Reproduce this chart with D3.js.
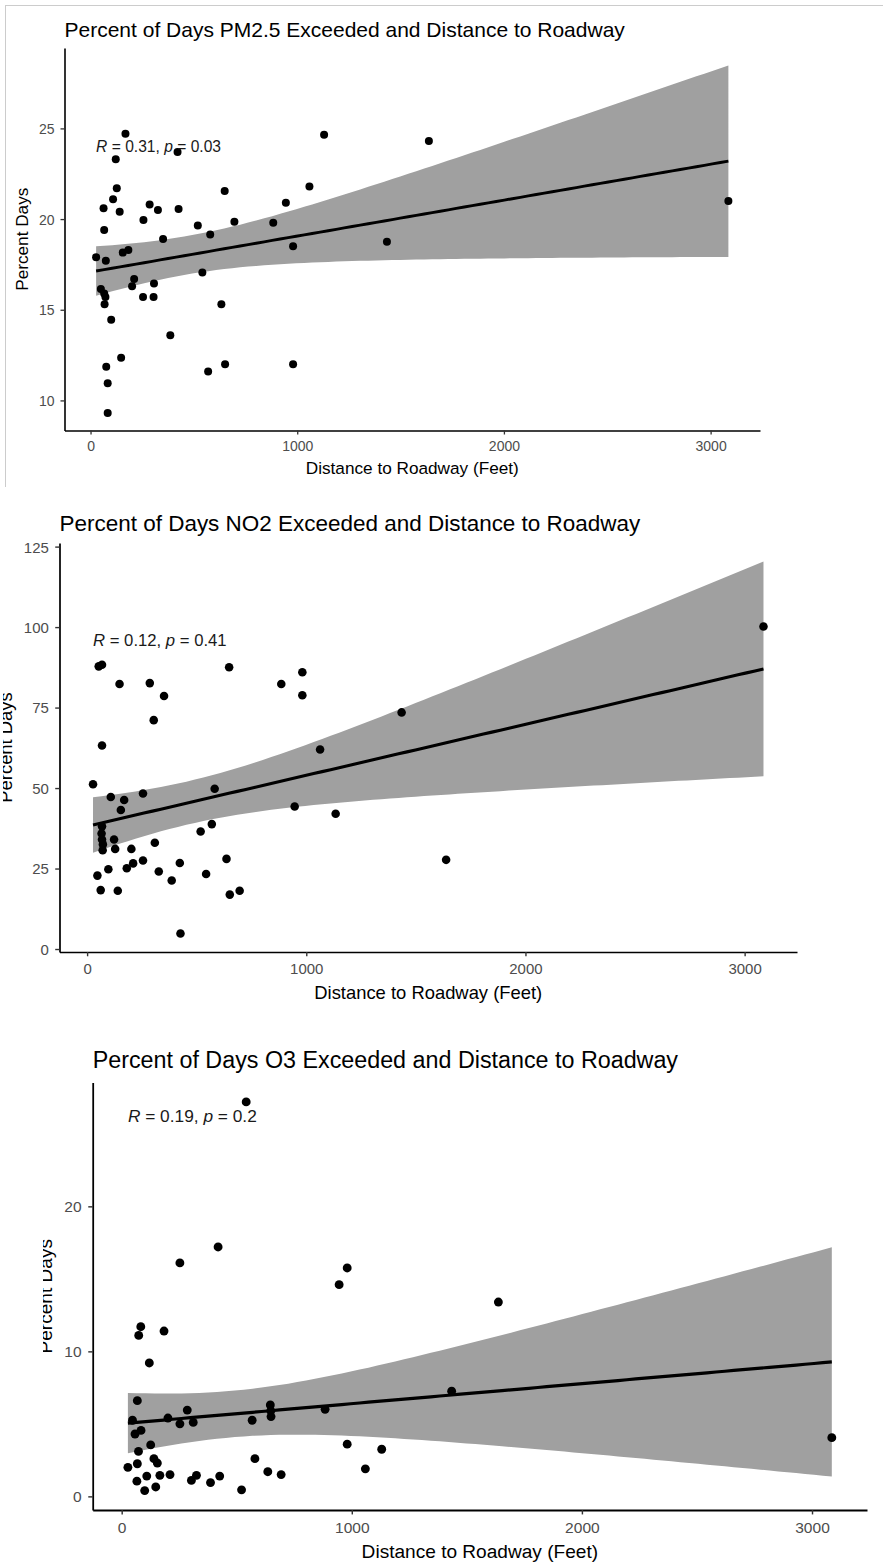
<!DOCTYPE html>
<html>
<head>
<meta charset="utf-8">
<script src="https://cdn.jsdelivr.net/npm/d3@7"></script>
<style>
  html, body { margin: 0; padding: 0; background: #fff; }
  svg { display: block; font-family: "Liberation Sans", Arial, Helvetica, sans-serif; }
</style>
</head>
<body>
<svg id="chart" width="883" height="1564"></svg>
<script>
// [distance to roadway (ft), percent of days the standard was exceeded]
const pm25Points = [
  [169,24.7],[421,23.7],[122,23.3],[127,21.7],[109,21.1],[63,20.6],[141,20.4],[286,20.8],
  [326,20.5],[426,20.55],[649,21.55],[945,20.9],[256,19.95],[66,19.4],[519,19.65],[696,19.85],
  [884,19.8],[351,18.9],[579,19.15],[27,17.9],[74,17.7],[156,18.15],[183,18.3],[980,18.5],
  [50,16.15],[66,15.9],[72,15.7],[68,15.3],[211,16.7],[201,16.3],[307,16.45],[254,15.7],
  [305,15.7],[541,17.05],[633,15.3],[100,14.45],[386,13.6],[148,12.35],[76,11.85],[569,11.6],
  [651,12.0],[980,12.0],[83,10.95],[83,9.3],[1130,24.65],[1637,24.3],[1059,21.8],[1434,18.75],
  [3086,21.0]
];
const no2Points = [
  [27,51.2],[53,87.8],[68,88.3],[148,82.3],[286,82.6],[351,78.6],[304,71.1],[68,63.2],
  [648,87.5],[886,82.3],[982,86.0],[982,78.8],[1063,62.0],[108,47.2],[169,46.3],[255,48.3],
  [154,43.2],[582,49.8],[947,44.3],[1134,42.0],[68,38.1],[66,35.9],[68,34.0],[72,32.5],
  [71,30.7],[123,34.0],[128,31.1],[202,31.1],[309,33.0],[518,36.5],[569,38.8],[47,22.8],
  [97,24.8],[181,25.1],[210,26.6],[255,27.5],[327,24.1],[386,21.3],[423,26.7],[543,23.3],
  [636,28.0],[62,18.3],[140,18.1],[651,16.9],[696,18.1],[426,4.85],[3086,100.2],[1435,73.5],
  [1638,27.7]
];
const o3Points = [
  [541,27.2],[419,17.2],[253,16.1],[945,14.6],[980,15.75],[83,11.7],[74,11.1],[184,11.4],
  [120,9.2],[68,6.6],[47,5.25],[84,4.55],[58,4.3],[201,5.4],[285,5.95],[253,5.0],
  [311,5.1],[567,5.25],[646,6.3],[648,5.9],[649,5.5],[884,6.0],[126,3.55],[73,3.1],
  [68,2.25],[27,2.0],[140,2.6],[155,2.3],[66,1.05],[109,1.4],[100,0.4],[148,0.65],
  [166,1.45],[210,1.5],[303,1.1],[325,1.45],[386,0.95],[426,1.4],[521,0.45],[579,2.6],
  [635,1.7],[693,1.5],[980,3.6],[1059,1.9],[1130,3.25],[1637,13.4],[1434,7.25],[3086,4.05]
];

const xTicks = [0, 1000, 2000, 3000];
const pm25YTicks = [10, 15, 20, 25];
const no2YTicks = [0, 25, 50, 75, 100, 125];
const o3YTicks = [0, 10, 20];

const titles = [
  "Percent of Days PM2.5 Exceeded and Distance to Roadway",
  "Percent of Days NO2 Exceeded and Distance to Roadway",
  "Percent of Days O3 Exceeded and Distance to Roadway"
];
const corR = ["0.31", "0.12", "0.19"];
const corP = ["0.03", "0.41", "0.2"];
const xAxisTitle = "Distance to Roadway (Feet)";
const yAxisTitle = "Percent Days";

// Layout of the three stacked panels (plot box in px, text scale k)
const panels = [
  { points: pm25Points, yTicks: pm25YTicks, box: { left: 64.5, right: 760, top: 48, bottom: 430.5 },
    k: 1.0, titleBase: 37.3, clipLeft: 0 },
  { points: no2Points, yTicks: no2YTicks, box: { left: 59.5, right: 797, top: 543, bottom: 952 },
    k: 1.07, titleBase: 531, clipLeft: 3 },
  { points: o3Points, yTicks: o3YTicks, box: { left: 92.7, right: 867, top: 1082.5, bottom: 1510 },
    k: 1.11, titleBase: 1068, clipLeft: 43 }
];

// Ordinary least squares fit with a 95% confidence band, evaluated on 80 points
function linearFit(pts) {
  const n = pts.length;
  const mx = d3.mean(pts, d => d[0]), my = d3.mean(pts, d => d[1]);
  const sxx = d3.sum(pts, d => (d[0] - mx) ** 2);
  const sxy = d3.sum(pts, d => (d[0] - mx) * (d[1] - my));
  const b = sxy / sxx, a = my - b * mx;
  const rss = d3.sum(pts, d => (d[1] - a - b * d[0]) ** 2);
  const s = Math.sqrt(rss / (n - 2));
  const df = n - 2, z = 1.959964;
  const t = z + (z ** 3 + z) / (4 * df) + (5 * z ** 5 + 16 * z ** 3 + 3 * z) / (96 * df * df);
  const [x0, x1] = d3.extent(pts, d => d[0]);
  return d3.range(80).map(i => {
    const x = x0 + (x1 - x0) * i / 79;
    const fit = a + b * x;
    const se = s * Math.sqrt(1 / n + (x - mx) ** 2 / sxx);
    return { x, fit, lo: fit - t * se, hi: fit + t * se };
  });
}

function expand(ext, mult) {
  const pad = (ext[1] - ext[0]) * mult;
  return [ext[0] - pad, ext[1] + pad];
}

const svg = d3.select("#chart");
const defs = svg.append("defs");
const fontStack = "'Liberation Sans', Arial, Helvetica, sans-serif";

// thin frame around the first panel
svg.append("line").attr("x1", 5).attr("x2", 883).attr("y1", 5.5).attr("y2", 5.5)
  .attr("stroke", "#cccccc").attr("stroke-width", 1);
svg.append("line").attr("x1", 5.5).attr("x2", 5.5).attr("y1", 5).attr("y2", 487)
  .attr("stroke", "#cccccc").attr("stroke-width", 1);

panels.forEach((p, i) => {
  const k = p.k, box = p.box;
  defs.append("clipPath").attr("id", "clip" + i)
    .append("rect").attr("x", p.clipLeft).attr("y", 0).attr("width", 883).attr("height", 1564);
  const g = svg.append("g").attr("clip-path", `url(#clip${i})`);

  const band = linearFit(p.points);
  const x = d3.scaleLinear()
    .domain(expand(d3.extent(p.points, d => d[0]), 0.05))
    .range([box.left, box.right]);
  const yExt = [
    Math.min(d3.min(p.points, d => d[1]), d3.min(band, d => d.lo)),
    Math.max(d3.max(p.points, d => d[1]), d3.max(band, d => d.hi))
  ];
  const y = d3.scaleLinear().domain(expand(yExt, 0.05)).range([box.bottom, box.top]);

  // confidence ribbon
  g.append("path").datum(band)
    .attr("fill", "#a0a0a0")
    .attr("d", d3.area().x(d => x(d.x)).y0(d => y(d.lo)).y1(d => y(d.hi)));

  // fitted line
  g.append("path").datum(band)
    .attr("fill", "none").attr("stroke", "#000").attr("stroke-width", 2.9 * k)
    .attr("d", d3.line().x(d => x(d.x)).y(d => y(d.fit)));

  // observations
  g.append("g").selectAll("circle").data(p.points).join("circle")
    .attr("cx", d => x(d[0])).attr("cy", d => y(d[1]))
    .attr("r", 4 * k).attr("fill", "#000");

  // correlation label
  const lab = g.append("text")
    .attr("x", x(d3.min(p.points, d => d[0])))
    .attr("y", y(d3.max(p.points, d => d[1])) + 18 * k)
    .attr("font-size", 15.6 * k).attr("fill", "#1a1a1a");
  lab.append("tspan").attr("font-style", "italic").text("R");
  lab.append("tspan").text(` = ${corR[i]}, `);
  lab.append("tspan").attr("font-style", "italic").text("p");
  lab.append("tspan").text(` = ${corP[i]}`);

  // y axis
  const yAxis = g.append("g").attr("transform", `translate(${box.left},0)`)
    .call(d3.axisLeft(y).tickValues(p.yTicks).tickFormat(d3.format("d"))
      .tickSize(4 * k).tickSizeOuter(0));
  yAxis.select(".domain").attr("stroke", "#000").attr("stroke-width", 1.6 * k);
  yAxis.selectAll(".tick line").attr("stroke", "#333").attr("stroke-width", 1.3 * k);
  yAxis.selectAll(".tick text")
    .attr("x", -10 * k).attr("dy", "0.36em")
    .attr("font-size", 14 * k).attr("fill", "#4d4d4d")
    .attr("font-family", fontStack);

  // x axis
  const xAxis = g.append("g").attr("transform", `translate(0,${box.bottom})`)
    .call(d3.axisBottom(x).tickValues(xTicks).tickFormat(d3.format("d"))
      .tickSize(4 * k).tickSizeOuter(0));
  xAxis.select(".domain").attr("stroke", "#000").attr("stroke-width", 1.6 * k);
  xAxis.selectAll(".tick line").attr("stroke", "#333").attr("stroke-width", 1.3 * k);
  xAxis.selectAll(".tick text")
    .attr("y", 20.5 * k).attr("dy", "0")
    .attr("font-size", 14 * k).attr("fill", "#4d4d4d")
    .attr("font-family", fontStack);

  // axis titles
  g.append("text")
    .attr("x", (box.left + box.right) / 2).attr("y", box.bottom + 43.5 * k)
    .attr("text-anchor", "middle").attr("font-size", 17.2 * k).attr("fill", "#000")
    .text(xAxisTitle);

  let maxW = 0;
  yAxis.selectAll(".tick text").each(function () { maxW = Math.max(maxW, this.getComputedTextLength()); });
  const yTitleX = box.left - 10 * k - maxW - 11 * k;
  g.append("text")
    .attr("transform", `translate(${yTitleX},${(box.top + box.bottom) / 2}) rotate(-90)`)
    .attr("text-anchor", "middle").attr("font-size", 17.2 * k).attr("fill", "#000")
    .text(yAxisTitle);

  // panel title
  g.append("text")
    .attr("x", box.left).attr("y", p.titleBase)
    .attr("font-size", 21 * k).attr("fill", "#000")
    .text(titles[i]);
});
</script>
</body>
</html>
